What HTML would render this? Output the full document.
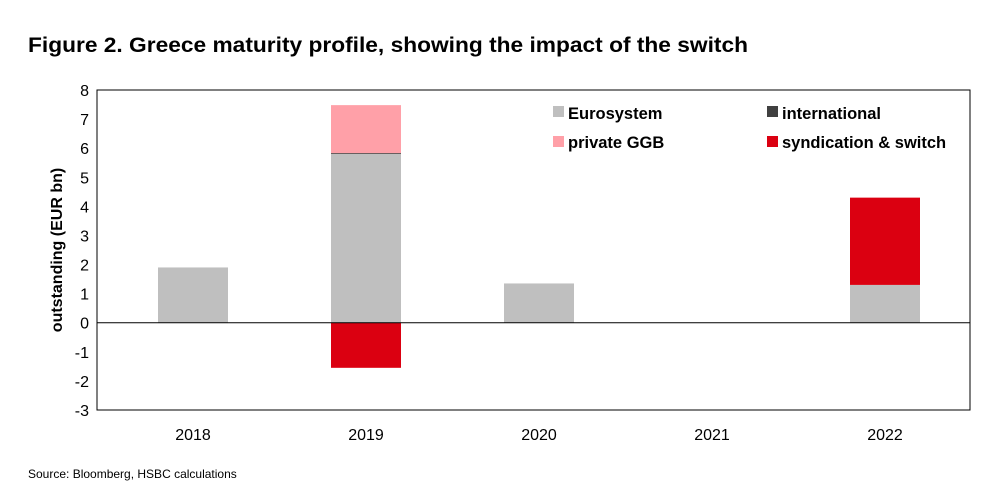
<!DOCTYPE html>
<html><head><meta charset="utf-8"><style>
body{margin:0;background:#fff;width:995px;height:497px;overflow:hidden;font-family:"Liberation Sans",Arial,sans-serif}
</style></head><body>
<svg width="995" height="497" xmlns="http://www.w3.org/2000/svg">
<text x="28" y="52" font-size="21" font-weight="bold" fill="#000" textLength="720" lengthAdjust="spacingAndGlyphs">Figure 2. Greece maturity profile, showing the impact of the switch</text>
<rect x="97" y="90" width="873" height="320" fill="none" stroke="#000" stroke-width="1"/>
<g id="bars"></g>
<g id="yticks"></g>
<g id="xticks"></g>
<text transform="translate(62,250) rotate(-90)" text-anchor="middle" font-size="16" font-weight="bold">outstanding (EUR bn)</text>
<g font-size="16.5" font-weight="bold">
<rect x="553" y="106" width="11" height="11" fill="#bfbfbf"/>
<text x="568" y="119">Eurosystem</text>
<rect x="553" y="136" width="11" height="11" fill="#ffa0a8"/>
<text x="568" y="148">private GGB</text>
<rect x="767" y="106" width="11" height="11" fill="#404040"/>
<text x="782" y="119">international</text>
<rect x="767" y="136" width="11" height="11" fill="#db0011"/>
<text x="782" y="148">syndication &amp; switch</text>
</g>
<text x="28" y="478" font-size="12" fill="#000">Source: Bloomberg, HSBC calculations</text>
</svg>
<script>
const categories=["2018","2019","2020","2021","2022"];
const eurosystem=[1.9,5.8,1.35,0,1.3];
const international=[0,0.03,0,0,0];
const privateGGB=[0,1.65,0,0,0];
const syndication=[0,-1.55,0,0,3.0];
const yTicks=[-3,-2,-1,0,1,2,3,4,5,6,7,8];
const NS="http://www.w3.org/2000/svg";
const L=97,R=970,T=90,B=410,ymin=-3,ymax=8;
const y=v=>T+(ymax-v)*(B-T)/(ymax-ymin);
const band=173;
const xc=i=>193+band*i;
const bw=70;
const bars=document.getElementById('bars');
function rect(x,y1,y2,fill,name){const r=document.createElementNS(NS,'rect');
r.setAttribute('x',x);r.setAttribute('y',Math.min(y1,y2));r.setAttribute('width',bw);r.setAttribute('height',Math.abs(y2-y1));r.setAttribute('fill',fill);


bars.appendChild(r);}
categories.forEach((c,i)=>{
 const x=xc(i)-bw/2;let pos=0,neg=0;
 const series=[[eurosystem,'#bfbfbf','eurosystem'],[international,'#404040','international'],[privateGGB,'#ffa0a8','private-ggb'],[syndication,'#db0011','syndication']];
 series.forEach(([arr,col,n])=>{const v=arr[i];if(!v)return;
  if(v>0){rect(x,y(pos),y(pos+v),col,'bar-'+n+'-'+c);pos+=v;}
  else{rect(x,y(neg),y(neg+v),col,'bar-'+n+'-'+c);neg+=v;}});
});
const z=document.createElementNS(NS,'line');z.setAttribute('x1',L);z.setAttribute('x2',R);z.setAttribute('y1',y(0));z.setAttribute('y2',y(0));z.setAttribute('stroke','#000');


bars.appendChild(z);
const yt=document.getElementById('yticks');
yTicks.forEach(v=>{const t=document.createElementNS(NS,'text');t.setAttribute('x',89);t.setAttribute('y',y(v)+6);t.setAttribute('text-anchor','end');t.setAttribute('font-size','16');t.textContent=v;


yt.appendChild(t);});
const xt=document.getElementById('xticks');
categories.forEach((c,i)=>{const t=document.createElementNS(NS,'text');t.setAttribute('x',xc(i));t.setAttribute('y',440);t.setAttribute('text-anchor','middle');t.setAttribute('font-size','16');t.textContent=c;


xt.appendChild(t);});
</script>
</body></html>
